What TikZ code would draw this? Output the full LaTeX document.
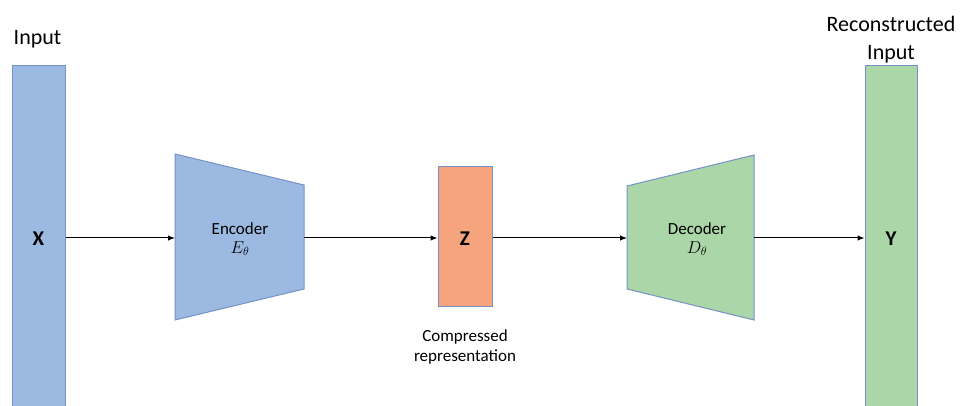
\documentclass[tikz,border=0pt]{standalone}
\usepackage{fontspec}
\setmainfont{Carlito}
\usetikzlibrary{arrows.meta}
\definecolor{bluefill}{HTML}{9BB9E1}
\definecolor{greenfill}{HTML}{ABD6A8}
\definecolor{orangefill}{HTML}{F6A47E}
\definecolor{edgecol}{HTML}{7592C8}
\tikzset{
  bar/.style={draw=edgecol, line width=1pt, inner sep=0pt},
  lbl/.style={font=\fontsize{22}{28}\selectfont, align=center, inner sep=0pt},
  small/.style={font=\fontsize{17}{20}\selectfont, align=center, inner sep=0pt},
  letter/.style={font=\fontsize{21}{24}\selectfont\bfseries, inner sep=0pt},
  arr/.style={line width=1pt, -{Latex[length=7pt,width=5.5pt]}},
  trap/.style={draw=edgecol, line width=1pt}
}
\begin{document}
\begin{tikzpicture}[x=1pt,y=-1pt]
\useasboundingbox (0,0) rectangle (961,406);
% input bar
\node[bar, fill=bluefill, minimum width=53pt, minimum height=344pt] (in) at (38.5,238) {};
\node[letter] (x) at (38.5,239) {X};
\node[lbl] (inlbl) at (37.5,39) {Input};
% encoder
\draw[trap, fill=bluefill] (175,154) -- (304,185) -- (304,289) -- (175,320) -- cycle;
\coordinate (encL) at (175,238);
\coordinate (encR) at (304,238);
\node[small] (enc) at (240,239) {Encoder\\[-1pt]$E_\theta$};
% latent
\node[bar, fill=orangefill, minimum width=54pt, minimum height=139pt] (z) at (465,236.5) {};
\node[letter] (zl) at (465,239) {Z};
\node[small] (comp) at (465,347) {Compressed\\representation};
% decoder
\draw[trap, fill=greenfill] (627,186) -- (754,155) -- (754,320) -- (627,289) -- cycle;
\coordinate (decL) at (627,238);
\coordinate (decR) at (754,238);
\node[small] (dec) at (697,239) {Decoder\\[-1pt]$D_\theta$};
% output bar
\node[bar, fill=greenfill, minimum width=52pt, minimum height=344pt] (out) at (891,238) {};
\node[letter] (y) at (891,239) {Y};
\node[lbl] (outlbl) at (891,40) {Reconstructed\\Input};
% arrows
\draw[arr] (in.east |- encL) -- (encL);
\draw[arr] (encR) -- (z.west |- encR);
\draw[arr] (z.east |- decL) -- (decL);
\draw[arr] (decR) -- (out.west |- decR);
\end{tikzpicture}
\end{document}
